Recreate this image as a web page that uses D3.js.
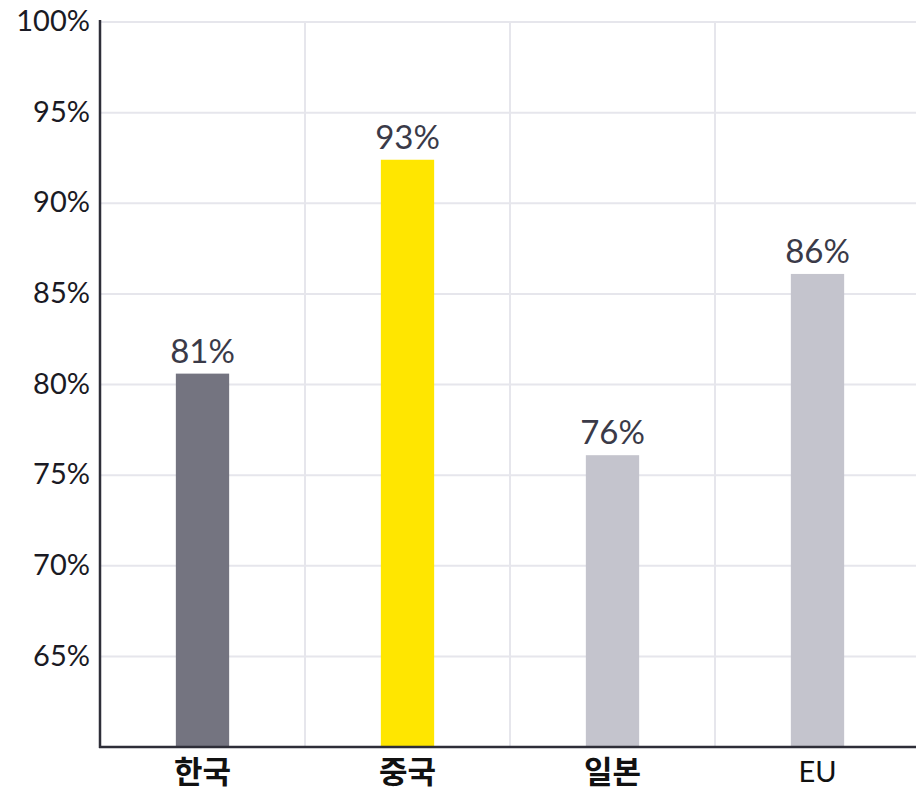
<!DOCTYPE html>
<html><head><meta charset="utf-8">
<script src="https://cdn.jsdelivr.net/npm/d3@7"></script>
<style>body{margin:0;background:#fff}</style>
</head><body>
<svg id="c" width="916" height="792"></svg>
<script>
const categories = ["한국", "중국", "일본", "EU"];
const values = [80.6, 92.4, 76.1, 86.1];
const valueLabels = ["81%", "93%", "76%", "86%"];
const barColors = ["#747480", "#ffe600", "#c4c4cd", "#c4c4cd"];
const yTicks = [65, 70, 75, 80, 85, 90, 95, 100];

const svg = d3.select("#c");
const m = {left: 100, right: 916, top: 22, bottom: 747};
const x = d3.scaleBand().domain(categories).range([m.left, 920]).paddingInner(0.74).paddingOuter(0.37);
const y = d3.scaleLinear().domain([60, 100]).range([m.bottom, m.top]);

// horizontal gridlines
svg.append("g").selectAll("line").data(yTicks).join("line")
  .attr("x1", m.left).attr("x2", m.right)
  .attr("y1", d => y(d)).attr("y2", d => y(d))
  .attr("stroke", "#e6e6ec").attr("stroke-width", 2);
// vertical gridlines between bands
const step = x.step();
svg.append("g").selectAll("line").data(categories.slice(1)).join("line")
  .attr("x1", d => x(d) - x.paddingInner() * step / 2)
  .attr("x2", d => x(d) - x.paddingInner() * step / 2)
  .attr("y1", m.top).attr("y2", m.bottom)
  .attr("stroke", "#e6e6ec").attr("stroke-width", 2);

// bars
svg.append("g").selectAll("rect").data(categories).join("rect")
  .attr("x", d => x(d)).attr("width", x.bandwidth())
  .attr("y", (d, i) => y(values[i]))
  .attr("height", (d, i) => y(60) - y(values[i]))
  .attr("fill", (d, i) => barColors[i]);

// value labels
svg.append("g").selectAll("text").data(categories).join("text")
  .attr("x", d => x(d) + x.bandwidth() / 2)
  .attr("y", (d, i) => y(values[i]) - 11)
  .attr("text-anchor", "middle")
  .attr("font-family", "Lato, 'Noto Sans', sans-serif")
  .attr("font-size", 33).attr("fill", "#3a3a48")
  .text((d, i) => valueLabels[i]);

// y axis
const yAxis = d3.axisLeft(y).tickValues(yTicks).tickSize(0).tickPadding(10).tickFormat(d => d + "%");
const ga = svg.append("g").attr("transform", `translate(${m.left},0)`).call(yAxis);
ga.select(".domain").remove();
ga.selectAll("text").attr("font-family", "Lato, 'Noto Sans', sans-serif").attr("font-size", 29).attr("fill", "#1a1a24").attr("dy", "0.3em");

// x axis labels
const xAxis = d3.axisBottom(x).tickSize(0).tickPadding(14);
const gx = svg.append("g").attr("transform", `translate(0,${m.bottom})`).call(xAxis);
gx.select(".domain").remove();
gx.selectAll("text")
  .attr("font-family", d => d === "EU" ? "Lato, 'Noto Sans', sans-serif" : "'Noto Sans CJK KR', sans-serif")
  .attr("font-weight", d => d === "EU" ? 400 : 700)
  .attr("font-size", d => d === "EU" ? 29 : 31)
  .attr("fill", "#111");

// axis lines
svg.append("line").attr("x1", m.left).attr("x2", m.left).attr("y1", m.top - 2).attr("y2", m.bottom + 1)
  .attr("stroke", "#2e2e38").attr("stroke-width", 2.5);
svg.append("line").attr("x1", m.left - 1).attr("x2", m.right).attr("y1", m.bottom).attr("y2", m.bottom)
  .attr("stroke", "#2e2e38").attr("stroke-width", 2.5);
</script>
</body></html>
